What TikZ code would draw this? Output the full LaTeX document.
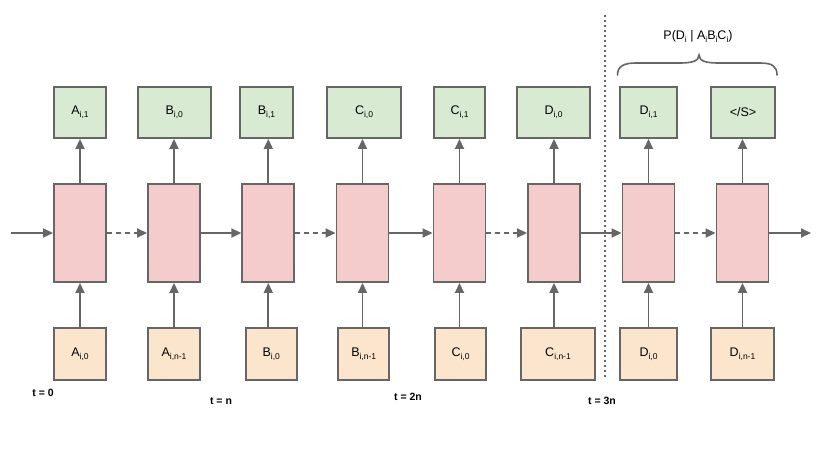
\documentclass[tikz,border=0pt]{standalone}
\usepackage{fontspec}
\setmainfont{Liberation Sans}
\usetikzlibrary{arrows.meta}
\definecolor{gfill}{HTML}{D9EAD3}
\definecolor{pfill}{HTML}{F4CCCC}
\definecolor{ofill}{HTML}{FCE5CD}
\definecolor{edge}{HTML}{666666}
\newcommand{\sbs}[1]{\raisebox{-0.45ex}{\fontsize{8.5}{9}\selectfont #1}}
\newcommand{\sbx}[2]{#1\sbs{#2}}
\tikzset{
  box/.style={draw=edge, line width=1.9pt, inner sep=0pt, font=\fontsize{12.5}{14}\selectfont},
  gbox/.style={box, fill=gfill, minimum height=51pt},
  pbox/.style={box, fill=pfill, minimum height=98pt, minimum width=52pt},
  obox/.style={box, fill=ofill, minimum height=52pt},
  arr/.style={draw=edge, line width=1.8pt, -{Triangle[length=10pt,width=9pt]}},
  darr/.style={arr, dash pattern=on 5pt off 4pt},
  tlab/.style={font=\bfseries\fontsize{10.5}{12}\selectfont, inner sep=0pt},
}
\begin{document}
\begin{tikzpicture}[x=1pt,y=-1pt]
\useasboundingbox (0,0) rectangle (830,467);
% pink cells
\node[pbox] (p1) at (80,233) {};
\node[pbox] (p2) at (174,233) {};
\node[pbox] (p3) at (268.3,233) {};
\node[pbox] (p4) at (362.5,233) {};
\node[pbox] (p5) at (459.5,233) {};
\node[pbox] (p6) at (554,233) {};
\node[pbox] (p7) at (648.5,233) {};
\node[pbox] (p8) at (742.5,233) {};
% green outputs
\node[gbox, minimum width=52pt] (g1) at (80,112.5) {\sbx{A}{i,1}};
\node[gbox, minimum width=73.5pt] (g2) at (174.3,112.5) {\sbx{B}{i,0}};
\node[gbox, minimum width=53pt] (g3) at (266.5,112.5) {\sbx{B}{i,1}};
\node[gbox, minimum width=74pt] (g4) at (364,112.5) {\sbx{C}{i,0}};
\node[gbox, minimum width=51pt] (g5) at (459.5,112.5) {\sbx{C}{i,1}};
\node[gbox, minimum width=73pt] (g6) at (553.5,112.5) {\sbx{D}{i,0}};
\node[gbox, minimum width=57pt] (g7) at (648.5,112.5) {\sbx{D}{i,1}};
\node[gbox, minimum width=64pt] (g8) at (743,112.5) {</S>};
% orange inputs
\node[obox, minimum width=52pt] (o1) at (80,354) {\sbx{A}{i,0}};
\node[obox, minimum width=52pt] (o2) at (174,354) {\sbx{A}{i,n-1}};
\node[obox, minimum width=51pt] (o3) at (271.3,354) {\sbx{B}{i,0}};
\node[obox, minimum width=51pt] (o4) at (363.7,354) {\sbx{B}{i,n-1}};
\node[obox, minimum width=51pt] (o5) at (460.5,354) {\sbx{C}{i,0}};
\node[obox, minimum width=74pt] (o6) at (558,354) {\sbx{C}{i,n-1}};
\node[obox, minimum width=57pt] (o7) at (648.5,354) {\sbx{D}{i,0}};
\node[obox, minimum width=63pt] (o8) at (742.5,354) {\sbx{D}{i,n-1}};
% vertical arrows
\foreach \i in {1,...,8}{
  \draw[arr] (o\i.north -| p\i.south) -- (p\i.south);
  \draw[arr] (p\i.north) -- (g\i.south -| p\i.north);
}
% horizontal arrows
\coordinate (in) at (11,233);
\coordinate (out) at (811,233);
\draw[arr] (in) -- (p1.west);
\draw[darr] (p1.east) -- (p2.west);
\draw[arr] (p2.east) -- (p3.west);
\draw[darr] (p3.east) -- (p4.west);
\draw[arr] (p4.east) -- (p5.west);
\draw[darr] (p5.east) -- (p6.west);
\draw[arr] (p6.east) -- (p7.west);
\draw[darr] (p7.east) -- (p8.west);
\draw[arr] (p8.east) -- (out);
% dotted separator
\coordinate (sepT) at (605,15);
\coordinate (sepB) at (605,377);
\draw[draw=edge, line width=1.5pt, dash pattern=on 1.5pt off 3.5pt] (sepT) -- (sepB);
% time labels
\node[tlab] (t0) at (43,393) {t = 0};
\node[tlab] (t1) at (221,401) {t = n};
\node[tlab] (t2) at (408,397) {t = 2n};
\node[tlab] (t3) at (602,401) {t = 3n};
% brace and probability
\node[font=\fontsize{12.5}{14}\selectfont, inner sep=0pt] (prob) at (698,36)
  {P(\sbx{D}{i} | A\sbs{i}B\sbs{i}C\sbs{i})};
\draw[draw=edge, line width=1.6pt, line cap=round]
  (617.5,75) .. controls (617.5,66) and (624,63) .. (636,63)
  -- (680,63) .. controls (692,63) and (699,61) .. (699,55)
  .. controls (699,61) and (706,63) .. (718,63)
  -- (760,63) .. controls (772,63) and (777,66) .. (777,75);
\end{tikzpicture}
\end{document}
